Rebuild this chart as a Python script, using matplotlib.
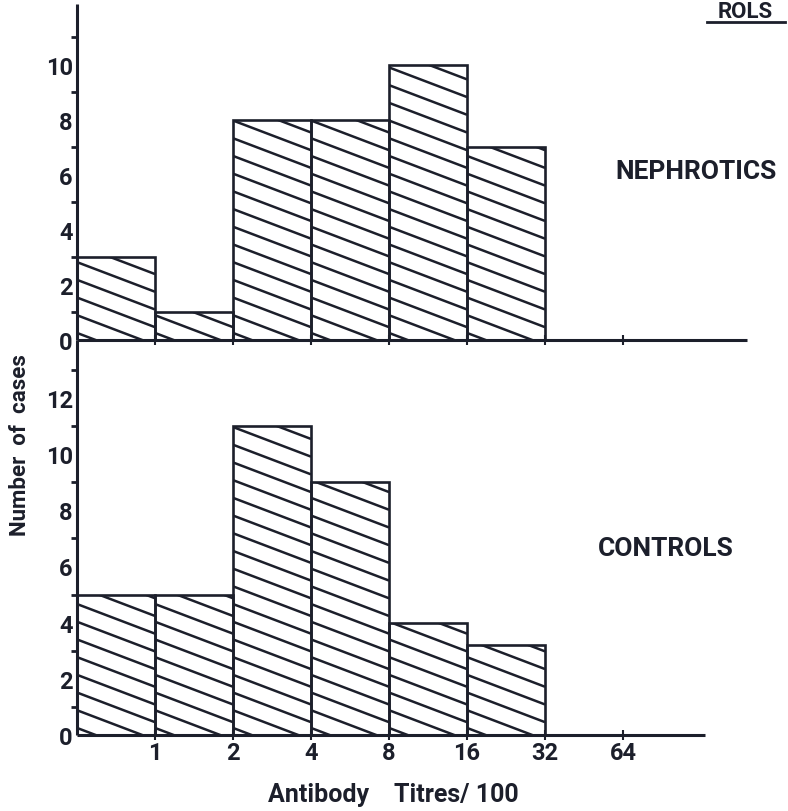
import numpy as np
import matplotlib.pyplot as plt
from matplotlib.collections import LineCollection
from matplotlib.lines import Line2D

plt.rcParams['font.family'] = ['Roboto', 'DejaVu Sans']
plt.rcParams['font.weight'] = 'bold'

# antibody titre bins (per 100) and case counts per bin
titre_labels = ['1', '2', '4', '8', '16', '32', '64']
nephrotics = [3, 1, 8, 8, 10, 7]
controls = [5, 5, 11, 9, 4, 3.2]

ink = '#1c1f2b'
W, H = 788, 812


def px_box(left, top, right, bottom):
    return [left / W, 1 - bottom / H, (right - left) / W, (bottom - top) / H]


def hatch_bars(ax, bars, spacing=17.7, slope=0.38):
    # shallow back-slash hatching, laid out in pixels and clipped to each bar
    to_px = ax.transData
    to_data = ax.transData.inverted()
    for bar in bars:
        x0, y0 = to_px.transform((bar.get_x(), bar.get_y()))
        x1, y1 = to_px.transform((bar.get_x() + bar.get_width(),
                                  bar.get_y() + bar.get_height()))
        w = x1 - x0
        segs = []
        for c in np.arange(y0 + spacing * 0.4, y1 + slope * w, spacing):
            segs.append(to_data.transform([(x0, c), (x1, c - slope * w)]))
        lc = LineCollection(segs, colors=ink, linewidths=1.8, capstyle='butt')
        ax.add_collection(lc)
        lc.set_clip_path(bar)


fig = plt.figure(figsize=(W / 100, H / 100), dpi=100)
ax_top = fig.add_axes(px_box(77, 5, 747, 341))
ax_bot = fig.add_axes(px_box(77, 341, 705, 736))

ax_top.set_xlim(0, (747 - 77) / 78)
ax_bot.set_xlim(0, (705 - 77) / 78)
ax_top.set_ylim(0, 12.2)
ax_bot.set_ylim(0, 14.06)

bins = np.arange(len(nephrotics))
for ax, counts, ymax in [(ax_top, nephrotics, 10), (ax_bot, controls, 12)]:
    bars = ax.bar(bins, counts, width=1, align='edge', fill=False,
                  edgecolor=ink, linewidth=1.9, zorder=3)
    hatch_bars(ax, bars)

    for s in ['top', 'right']:
        ax.spines[s].set_visible(False)
    for s in ['left', 'bottom']:
        ax.spines[s].set_linewidth(2.2)
        ax.spines[s].set_color(ink)
        ax.spines[s].set_capstyle('butt')

    ax.set_yticks(np.arange(0, ymax + 1, 2))
    ax.set_yticks(np.arange(1, ymax + 2, 2), minor=True)
    ax.tick_params(axis='y', which='major', length=0, pad=3,
                   labelsize=17, labelcolor=ink)
    ax.tick_params(axis='y', which='minor', direction='out', length=4,
                   width=2, color=ink)

    ax.set_xticks(np.arange(1, len(titre_labels) + 1))
    ax.tick_params(axis='x', which='major', direction='inout', length=7,
                   width=1.5, color=ink, pad=1, labelsize=17, labelcolor=ink)
    ax.patch.set_visible(False)

ax_top.set_xticklabels([])
ax_bot.set_xticklabels(titre_labels)

fig.text(696 / W, 1 - 172 / H, 'NEPHROTICS', ha='center', va='center',
         fontsize=19, color=ink)
fig.text(666 / W, 1 - 549 / H, 'CONTROLS', ha='center', va='center',
         fontsize=19, color=ink)
fig.text(20 / W, 1 - 445 / H, 'Number  of  cases', rotation=90,
         ha='center', va='center', fontsize=16, color=ink)
fig.text(393 / W, 1 - 795 / H, 'Antibody    Titres/ 100', ha='center',
         va='center', fontsize=18, color=ink)

# heading fragment running off the top edge, with its underline
fig.text(745 / W, 1 - 18 / H, 'ROLS', ha='center', va='baseline',
         fontsize=16, color=ink)
fig.add_artist(Line2D([707 / W, 785 / W], [1 - 23 / H, 1 - 23 / H],
                      color=ink, linewidth=2))

fig.savefig('out.png', dpi=100)
